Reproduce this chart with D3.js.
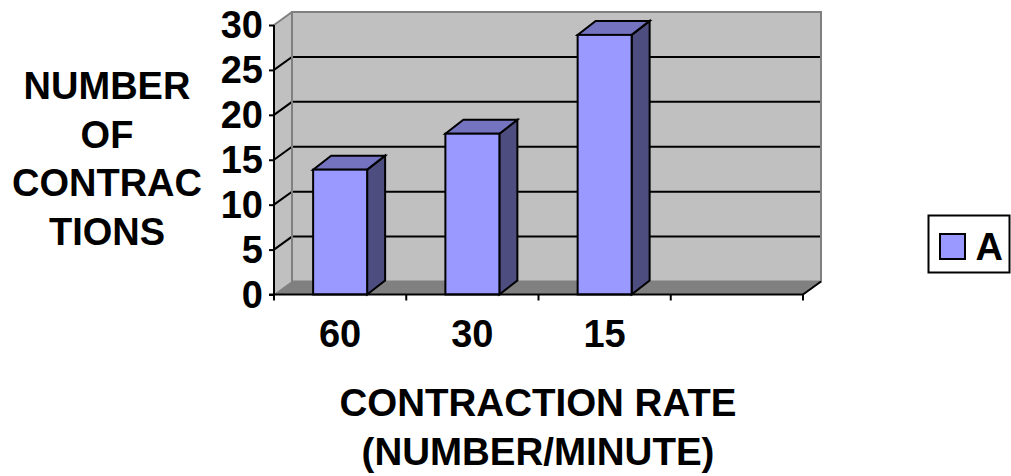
<!DOCTYPE html>
<html>
<head>
<meta charset="utf-8">
<script src="https://cdn.jsdelivr.net/npm/d3@7"></script>
<style>
html,body{margin:0;padding:0;background:#fff}
svg{display:block}
text{font-family:"Liberation Sans",Arial,sans-serif;font-weight:bold;fill:#000}
</style>
</head>
<body>
<svg id="chart" width="1011" height="476"></svg>
<script>
const categories = ["60", "30", "15", ""];
const seriesName = "A";
const values = [13.9, 17.9, 28.9];
const yTicks = [0, 5, 10, 15, 20, 25, 30];
const yTitleLines = ["NUMBER", "OF", "CONTRAC", "TIONS"];
const xTitleLines = ["CONTRACTION RATE", "(NUMBER/MINUTE)"];

const svg = d3.select("#chart");
const fontSize = 38;

// Oblique offsets: walls recede a little less steeply than the bar tops
const back = {dx: 18, dy: -13};
const depth = {dx: 18, dy: -14};

const x = d3.scaleBand().domain(categories).range([274, 803]);
const y = d3.scaleLinear().domain([0, 30]).range([294.5, 25]);
const barWidth = 54;
const barX = c => x(c) + (x.bandwidth() - barWidth) / 2;

const poly = pts => pts.map(p => p.join(",")).join(" ");
const [x0, x1] = x.range();
const [y0, y1] = y.range();

// Side wall
svg.append("polygon")
  .attr("points", poly([[x0, y0], [x0 + back.dx, y0 + back.dy], [x0 + back.dx, y1 + back.dy], [x0, y1]]))
  .attr("fill", "#c0c0c0");

// Back wall
svg.append("rect")
  .attr("x", x0 + back.dx).attr("y", y1 + back.dy)
  .attr("width", x1 - x0).attr("height", y0 - y1)
  .attr("fill", "#c0c0c0");

// Gridlines across the side and back walls
const gridTicks = yTicks.filter(t => t > 0 && t < 30);
svg.append("g").selectAll("polyline").data(gridTicks).join("polyline")
  .attr("points", t => poly([[x0, y(t)], [x0 + back.dx, y(t) + back.dy], [x1 + back.dx, y(t) + back.dy]]))
  .attr("fill", "none").attr("stroke", "#000").attr("stroke-width", 2);

// Wall outlines sit over the gridline ends
svg.append("rect")
  .attr("x", x0 + back.dx).attr("y", y1 + back.dy)
  .attr("width", x1 - x0).attr("height", y0 - y1)
  .attr("fill", "none").attr("stroke", "#808080").attr("stroke-width", 2);
svg.append("line")
  .attr("x1", x0).attr("y1", y1).attr("x2", x0 + back.dx).attr("y2", y1 + back.dy)
  .attr("stroke", "#808080").attr("stroke-width", 2);

// Floor
svg.append("polygon")
  .attr("points", poly([[x0, y0], [x1, y0], [x1 + back.dx, y0 + back.dy], [x0 + back.dx, y0 + back.dy]]))
  .attr("fill", "#808080").attr("stroke", "#808080").attr("stroke-width", 1);
svg.append("line")
  .attr("x1", x1).attr("y1", y0).attr("x2", x1 + back.dx).attr("y2", y0 + back.dy)
  .attr("stroke", "#000").attr("stroke-width", 2);

// Bars: side, top and front faces
const bars = svg.append("g").selectAll("g").data(values).join("g");
const styled = sel => sel.attr("stroke", "#000").attr("stroke-width", 2).attr("stroke-linejoin", "miter");

styled(bars.append("polygon"))
  .attr("fill", "#4d4d80")
  .attr("points", (d, i) => {
    const r = barX(categories[i]) + barWidth;
    return poly([[r, y0], [r + depth.dx, y0 + depth.dy], [r + depth.dx, y(d) + depth.dy], [r, y(d)]]);
  });
styled(bars.append("polygon"))
  .attr("fill", "#7373bf")
  .attr("points", (d, i) => {
    const l = barX(categories[i]);
    return poly([[l, y(d)], [l + barWidth, y(d)], [l + barWidth + depth.dx, y(d) + depth.dy], [l + depth.dx, y(d) + depth.dy]]);
  });
styled(bars.append("rect"))
  .attr("fill", "#9999ff")
  .attr("x", (d, i) => barX(categories[i]))
  .attr("y", d => y(d))
  .attr("width", barWidth)
  .attr("height", d => y0 - y(d));

// Value axis
const yAxis = d3.axisLeft(y).tickValues(yTicks).tickSize(5).tickPadding(6);
const yG = svg.append("g").attr("transform", `translate(${x0},0)`).call(yAxis);
yG.selectAll("line,path").attr("stroke", "#000").attr("stroke-width", 2);
yG.select("path").attr("d", `M0,${y0}V${y1}`);
yG.selectAll("text").attr("font-size", fontSize).attr("font-family", null)
  .attr("dy", "0.33em");

// Category axis
const xTickPositions = categories.map(c => x(c)).concat([x1]);
const xAxisG = svg.append("g");
xAxisG.append("line").attr("x1", x0 - 5).attr("x2", x1).attr("y1", y0).attr("y2", y0)
  .attr("stroke", "#000").attr("stroke-width", 2);
xAxisG.selectAll("line.t").data(xTickPositions).join("line").attr("class", "t")
  .attr("x1", d => d).attr("x2", d => d).attr("y1", y0).attr("y2", y0 + 6)
  .attr("stroke", "#000").attr("stroke-width", 2);
xAxisG.selectAll("text").data(categories.filter(c => c)).join("text")
  .attr("x", c => x(c) + x.bandwidth() / 2)
  .attr("y", 347).attr("text-anchor", "middle").attr("font-size", fontSize)
  .text(c => c);

// Axis titles
svg.append("g").selectAll("text").data(yTitleLines).join("text")
  .attr("x", 107).attr("y", (d, i) => 99 + i * 48.7)
  .attr("text-anchor", "middle").attr("font-size", fontSize).text(d => d);
svg.append("g").selectAll("text").data(xTitleLines).join("text")
  .attr("x", 538).attr("y", (d, i) => 416 + i * 49)
  .attr("text-anchor", "middle").attr("font-size", 38.5).text(d => d);

// Legend
const legend = svg.append("g");
legend.append("rect").attr("x", 928.5).attr("y", 215.5).attr("width", 81).attr("height", 57)
  .attr("fill", "#fff").attr("stroke", "#000").attr("stroke-width", 2);
legend.append("rect").attr("x", 940).attr("y", 234).attr("width", 25).attr("height", 25)
  .attr("fill", "#9999ff").attr("stroke", "#000").attr("stroke-width", 2);
legend.append("text").attr("x", 975.5).attr("y", 260).attr("font-size", fontSize).text(seriesName);
</script>
</body>
</html>
